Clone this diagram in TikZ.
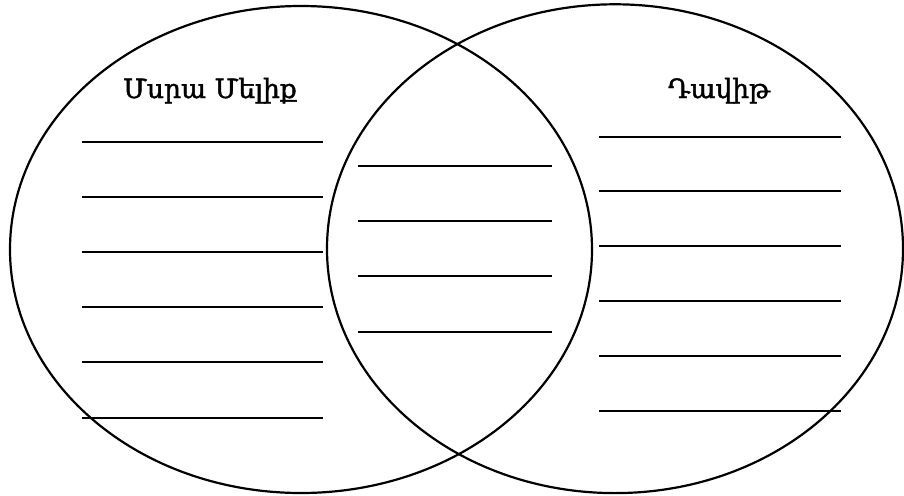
\documentclass[tikz,border=0pt]{standalone}
\usepackage{fontspec}
\newfontfamily\armfont[FakeBold=1.6]{DejaVu Serif}
\usetikzlibrary{positioning}
\tikzset{
  setline/.style={black,line width=2.2pt},
  blank/.style={black,line width=2pt},
  heading/.style={font=\armfont\fontsize{26.5}{30}\selectfont,anchor=base}
}

\begin{document}
\begin{tikzpicture}[x=1pt,y=-1pt]
  \useasboundingbox (0,0) rectangle (904,495);

  % Two overlapping sets
  \draw[setline] (301,249.5) ellipse [x radius=291, y radius=243.5];
  \draw[setline] (615,248.7) ellipse [x radius=288, y radius=244.4];

  % Headings
  \node[heading] (lefthead) at (210,98) {Մսրա Մելիք};
  \node[heading] (righthead) at (719,98) {Դավիթ};

  % Writing lines, left set
  \foreach \y in {142,197,252,307,362,418}
    \draw[blank] (82,\y) -- (323,\y);

  % Writing lines, overlap
  \foreach \y in {166,221,276,332}
    \draw[blank] (358,\y) -- (552,\y);

  % Writing lines, right set
  \foreach \y in {137,191,246,301,356,411}
    \draw[blank] (599,\y) -- (841,\y);
\end{tikzpicture}
\end{document}
